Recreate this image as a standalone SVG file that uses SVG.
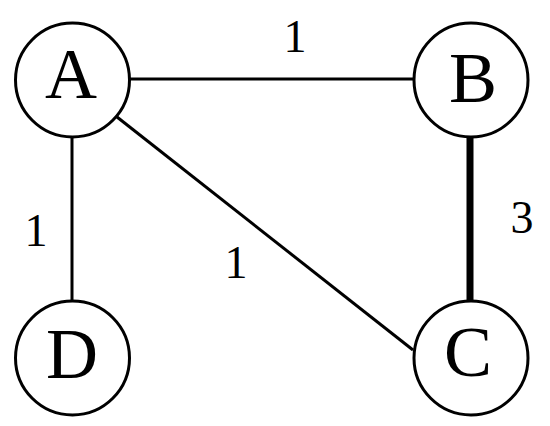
<svg xmlns="http://www.w3.org/2000/svg" width="550" height="426" viewBox="0 0 550 426">
<style>
.node circle{fill:#fff;stroke:#000;stroke-width:3}
.node text{font-family:"Liberation Serif","Times New Roman",serif;font-size:72px;text-anchor:middle;fill:#000}
.edge{stroke:#000;stroke-width:3;fill:none}
.thick{stroke-width:7}
.lbl{font-family:"Liberation Serif","Times New Roman",serif;font-size:46px;text-anchor:middle;fill:#000}
</style>
<rect width="550" height="426" fill="#fff"/>
<g id="connectors">
<line class="edge" x1="130" y1="79" x2="414" y2="79"/>
<line class="edge" x1="72" y1="137" x2="72" y2="301"/>
<line class="edge" x1="117" y1="117" x2="413" y2="350"/>
<line class="edge thick" x1="470" y1="137" x2="470" y2="301"/>
<text class="lbl" x="295" y="52">1</text>
<text class="lbl" x="36" y="246">1</text>
<text class="lbl" x="236" y="278">1</text>
<text class="lbl" x="522" y="233">3</text>
</g>
<g id="A" class="node"><circle cx="72.5" cy="80" r="57"/><text x="71" y="98">A</text></g>
<g id="B" class="node"><circle cx="471" cy="80" r="57"/><text x="473" y="102">B</text></g>
<g id="C" class="node"><circle cx="471" cy="358" r="57"/><text x="468" y="376">C</text></g>
<g id="D" class="node"><circle cx="72.5" cy="358" r="57"/><text x="72" y="378">D</text></g>
</svg>
